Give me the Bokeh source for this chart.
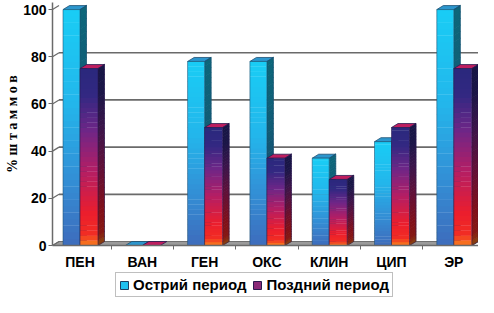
import numpy as np
from bokeh.plotting import figure
from bokeh.layouts import column
from bokeh.models import Range1d, FixedTicker, Legend, LegendItem
from bokeh.embed import file_html
from bokeh.resources import INLINE

categories = ["ПЕН", "ВАН", "ГЕН", "ОКС", "КЛИН", "ЦИП", "ЭР"]
acute = [100, 0, 78, 78, 37, 44, 100]
late = [75, 0, 50, 37, 28, 50, 75]
series_names = ["Острий период", "Поздний период"]
y_ticks = [0, 20, 40, 60, 80, 100]
y_label = "% ш т а м м о в"

W, H = 478, 272
LEG_H = 25
B_LEFT, B_RIGHT, B_TOP, B_BOTTOM = 52, 0, 2, 27
FW = W - B_LEFT - B_RIGHT
FH = H - B_TOP - B_BOTTOM
PX_X = 62.3
XA = -27.5 / PX_X
XE = XA + FW / PX_X
Y0, Y1 = 0, 103
PX_Y = FH / (Y1 - Y0)
DX = 6.5 / PX_X
DY = 4.0 / PX_Y

p = figure(width=W, height=H, output_backend="svg", toolbar_location=None,
           x_range=Range1d(XA, XE), y_range=Range1d(Y0, Y1),
           min_border_left=B_LEFT, min_border_right=B_RIGHT,
           min_border_top=B_TOP, min_border_bottom=B_BOTTOM)
p.outline_line_color = None
p.xgrid.visible = False
p.ygrid.visible = False
p.background_fill_color = "white"

FONT = "Liberation Sans"

# axes
p.yaxis.ticker = FixedTicker(ticks=y_ticks)
p.yaxis.axis_line_color = "#6a6a6a"
p.yaxis.axis_line_width = 1.5
p.yaxis.major_tick_line_color = "#6a6a6a"
p.yaxis.major_tick_in = 0
p.yaxis.major_tick_out = 4
p.yaxis.minor_tick_line_color = None
p.yaxis.major_label_standoff = 2
p.yaxis.major_label_text_font = FONT
p.yaxis.major_label_text_font_style = "bold"
p.yaxis.major_label_text_font_size = "14px"
p.yaxis.major_label_text_color = "black"
p.yaxis.axis_label = y_label
p.yaxis.axis_label_text_font = "Liberation Serif"
p.yaxis.axis_label_text_font_style = "bold"
p.yaxis.axis_label_text_font_size = "14px"
p.yaxis.axis_label_text_color = "black"
p.yaxis.axis_label_standoff = 0

x_pos = list(range(len(categories)))
p.xaxis.ticker = FixedTicker(ticks=x_pos, minor_ticks=[i + 0.5 for i in x_pos])
p.xaxis.major_label_overrides = {i: c for i, c in enumerate(categories)}
p.xaxis.axis_line_color = "#6a6a6a"
p.xaxis.axis_line_width = 1.5
p.xaxis.major_tick_line_color = None
p.xaxis.minor_tick_line_color = "#6a6a6a"
p.xaxis.minor_tick_in = 0
p.xaxis.minor_tick_out = 4
p.xaxis.major_label_standoff = 2
p.xaxis.major_label_text_font = FONT
p.xaxis.major_label_text_font_style = "bold"
p.xaxis.major_label_text_font_size = "14px"
p.xaxis.major_label_text_color = "black"

# floor
p.patch([XA, XE - DX, XE, XA + DX], [0, 0, DY, DY],
        fill_color="#9a9a9a", line_color="#707070", line_width=1)

# back-wall gridlines and connectors
grid_t = [t for t in y_ticks if 0 < t < 100]
p.multi_line([[XA + DX, XE] for t in grid_t], [[t + DY, t + DY] for t in grid_t],
             line_color="#6a6a6a", line_width=1.7)
p.multi_line([[XA, XA + DX] for t in y_ticks], [[t, t + DY] for t in y_ticks],
             line_color="#6a6a6a", line_width=1.2)


def hexc(c):
    return "#%02x%02x%02x" % tuple(int(max(0, min(255, round(v)))) for v in c)


def grad(stops, f):
    for (f0, c0), (f1, c1) in zip(stops[:-1], stops[1:]):
        if f0 <= f <= f1:
            u = (f - f0) / (f1 - f0) if f1 > f0 else 0
            return [a + (b - a) * u for a, b in zip(c0, c1)]
    return stops[-1][1]


cyan_stops = [(0.0, (62, 108, 188)), (0.3, (50, 145, 215)), (0.6, (35, 182, 235)), (1.0, (25, 205, 245))]
late_stops = [(0.0, (248, 130, 30)), (0.06, (242, 45, 35)), (0.18, (235, 30, 45)), (0.42, (180, 30, 100)),
              (0.65, (110, 38, 135)), (0.85, (50, 40, 130)), (1.0, (42, 40, 125))]
styles = [
    dict(stops=cyan_stops, x0=-17 / PX_X, x1=0.0, shade=0.5, top=(45, 150, 205), outline="#1d4f72"),
    dict(stops=late_stops, x0=0.0, x1=18 / PX_X, shade=0.55, top=(190, 30, 95), outline="#2a1a50"),
]
N = 36

for vals, st in zip([acute, late], styles):
    fl, fr, fb, ft, fc = [], [], [], [], []
    sx, sy, sc = [], [], []
    tx, ty = [], []
    ox, oy = [], []
    for i, v in enumerate(vals):
        x0 = i + st["x0"]
        x1 = i + st["x1"]
        if v > 0:
            e = np.linspace(0, v, N + 1)
            for k in range(N):
                f = (k + 0.5) / N
                col = grad(st["stops"], f)
                fl.append(x0); fr.append(x1); fb.append(e[k]); ft.append(e[k + 1] + (0.15 if k < N - 1 else 0))
                fc.append(hexc(col))
                sx.append([x1, x1 + DX, x1 + DX, x1])
                sy.append([e[k], e[k] + DY, e[k + 1] + DY + 0.15, e[k + 1] + 0.15])
                sc.append(hexc([c * st["shade"] for c in col]))
            ox += [[x0, x1, x1, x0, x0], [x1, x1 + DX, x1 + DX, x1]]
            oy += [[0, 0, v, v, 0], [0, DY, v + DY, v]]
        tx.append([x0, x1, x1 + DX, x0 + DX])
        ty.append([v, v, v + DY, v + DY])
    if sx:
        p.patches(sx, sy, fill_color=sc, line_color=sc, line_width=0.5)
    p.patches(tx, ty, fill_color=hexc(st["top"]), line_color=st["outline"], line_width=0.8)
    if fl:
        p.quad(left=fl, right=fr, bottom=fb, top=ft, fill_color=fc, line_color=None)
    p.multi_line(ox, oy, line_color=st["outline"], line_width=0.7, line_alpha=0.8)

# legend figure (its frame is aligned with the main frame by the column layout)
lg = figure(width=W, height=LEG_H, output_backend="svg", toolbar_location=None,
            x_range=Range1d(0, 1), y_range=Range1d(0, 1),
            x_axis_location=None, y_axis_location=None,
            min_border_left=0, min_border_right=0, min_border_top=0, min_border_bottom=0)
lg.grid.visible = False
lg.outline_line_color = None
r_a = lg.quad(left=[5], right=[6], top=[6], bottom=[5], fill_color="#1ec0f0", line_color="#1d3f62", line_width=1)
r_l = lg.quad(left=[5], right=[6], top=[6], bottom=[5], fill_color="#8a2a78", line_color="#2a1a50", line_width=1)
legend = Legend(items=[LegendItem(label=series_names[0], renderers=[r_a]),
                       LegendItem(label=series_names[1], renderers=[r_l])],
                orientation="horizontal", location=(63, 0),
                label_text_font=FONT, label_text_font_style="bold", label_text_font_size="15px",
                label_text_color="black", glyph_width=10, glyph_height=10, label_standoff=4,
                spacing=6, padding=3, margin=0, border_line_color="#808080", border_line_width=1.5,
                background_fill_color="white", background_fill_alpha=1)
lg.add_layout(legend, "center")

layout = column(p, lg, spacing=0)
open("out.html", "w").write(file_html(layout, INLINE))
